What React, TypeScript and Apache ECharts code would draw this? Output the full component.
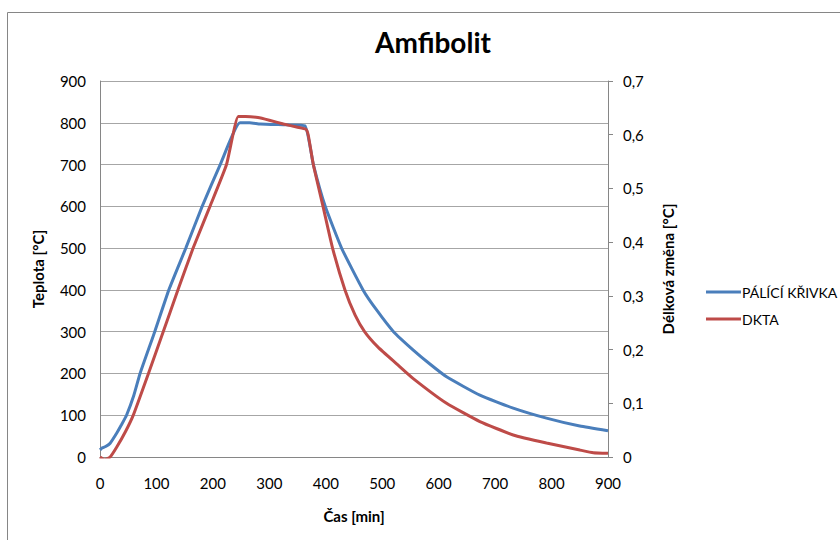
import React, { useEffect, useRef } from "react";
import * as echarts from "echarts";

// Firing curve (left axis, °C)
const firingTime = [0, 3, 10, 18, 30, 38, 47, 60, 71, 97, 122, 152, 181, 213, 248, 265, 284, 330, 363, 378, 399, 428, 466, 490, 520, 555, 585, 614, 673, 732, 791, 850, 900];
const firingTemp = [17, 21, 25, 33, 58, 77, 100, 148, 200, 300, 400, 500, 600, 700, 800, 800, 797, 795, 793, 700, 600, 500, 400, 352, 300, 256, 222, 192, 148, 117, 93, 74, 63];

// DKTA length change (right axis)
const dktaTime = [0, 8, 18, 30, 45, 59, 86, 112, 138, 165, 195, 224, 245, 258, 280, 300, 325, 350, 365, 369, 378, 395, 412, 434, 452, 469, 493, 526, 555, 614, 673, 732, 791, 850, 874, 900];
const dktaValue = [0, -0.005, 0, 0.019, 0.047, 0.078, 0.156, 0.233, 0.311, 0.389, 0.467, 0.544, 0.634, 0.634, 0.632, 0.627, 0.62, 0.614, 0.61, 0.599, 0.544, 0.467, 0.389, 0.311, 0.264, 0.233, 0.204, 0.173, 0.146, 0.1, 0.066, 0.041, 0.026, 0.013, 0.008, 0.007];

const seriesNames = ["PÁLÍCÍ KŘIVKA", "DKTA"];

const FONT = "Lato, 'Open Sans', sans-serif";
const GRID_COLOR = "#a6a6a6";
const AXIS_COLOR = "#868686";

export default function App() {
  const ref = useRef<HTMLDivElement>(null);

  useEffect(() => {
    if (!ref.current) return;
    const chart = echarts.init(ref.current, undefined, { renderer: "svg" });
    const firing = firingTime.map((t, i) => [t, firingTemp[i]]);
    const dkta = dktaTime.map((t, i) => [t, dktaValue[i]]);

    const nameStyle = { fontFamily: FONT, fontWeight: "bold", fontSize: 15, color: "#000" };
    const labelStyle = { fontFamily: FONT, fontSize: 15, color: "#000" };

    chart.setOption({
      animation: false,
      backgroundColor: "#ffffff",
      textStyle: { fontFamily: FONT },
      title: {
        text: "Amfibolit",
        left: 428,
        top: 23,
        textAlign: "center",
        textStyle: { fontFamily: FONT, fontWeight: "bold", fontSize: 28, color: "#000" },
      },
      graphic: [
        {
          type: "rect",
          shape: { x: 7.5, y: 12.5, width: 900, height: 600 },
          style: { fill: "none", stroke: AXIS_COLOR, lineWidth: 1 },
          silent: true,
        },
      ],
      legend: {
        orient: "vertical",
        left: 701,
        top: 280,
        itemWidth: 35,
        itemHeight: 3,
        itemGap: 13,
        icon: "rect",
        data: seriesNames,
        textStyle: { fontFamily: FONT, fontSize: 14, color: "#000", padding: [0, 0, 0, -4] },
      },
      grid: { left: 100, right: 232, top: 81, bottom: 83 },
      xAxis: {
        type: "value",
        min: 0,
        max: 900,
        interval: 100,
        name: "Čas [min]",
        nameLocation: "middle",
        nameGap: 51,
        nameTextStyle: nameStyle,
        axisLine: { show: true, lineStyle: { color: AXIS_COLOR } },
        axisTick: { show: false },
        splitLine: { show: false },
        axisLabel: { margin: 18, ...labelStyle },
      },
      yAxis: [
        {
          type: "value",
          min: 0,
          max: 900,
          interval: 100,
          position: "left",
          name: "Teplota [°C]",
          nameLocation: "middle",
          nameGap: 55,
          nameTextStyle: nameStyle,
          axisLine: { show: true, lineStyle: { color: AXIS_COLOR } },
          axisTick: { show: false },
          splitLine: { show: true, lineStyle: { color: GRID_COLOR, width: 1 } },
          axisLabel: { margin: 14, ...labelStyle },
        },
        {
          type: "value",
          min: 0,
          max: 0.7,
          interval: 0.1,
          position: "right",
          name: "Délková změna [°C]",
          nameLocation: "middle",
          nameGap: 52,
          nameTextStyle: nameStyle,
          axisLine: { show: true, lineStyle: { color: AXIS_COLOR } },
          axisTick: { show: true, inside: false, length: 5, lineStyle: { color: AXIS_COLOR } },
          splitLine: { show: false },
          axisLabel: {
            margin: 15,
            ...labelStyle,
            formatter: (v: number) => String(Math.round(v * 10) / 10).replace(".", ","),
          },
        },
      ],
      series: [
        {
          name: seriesNames[0],
          type: "line",
          yAxisIndex: 0,
          data: firing,
          showSymbol: false,
          smooth: 0.15,
          clip: true,
          lineStyle: { color: "#4a7ebb", width: 3 },
          itemStyle: { color: "#4a7ebb" },
        },
        {
          name: seriesNames[1],
          type: "line",
          yAxisIndex: 1,
          data: dkta,
          showSymbol: false,
          smooth: 0.15,
          clip: true,
          lineStyle: { color: "#be4b48", width: 3 },
          itemStyle: { color: "#be4b48" },
        },
      ],
    });

    return () => chart.dispose();
  }, []);

  return (
    <div
      ref={ref}
      style={{ position: "absolute", left: 0, top: 0, width: 840, height: 540, overflow: "hidden" }}
    />
  );
}
